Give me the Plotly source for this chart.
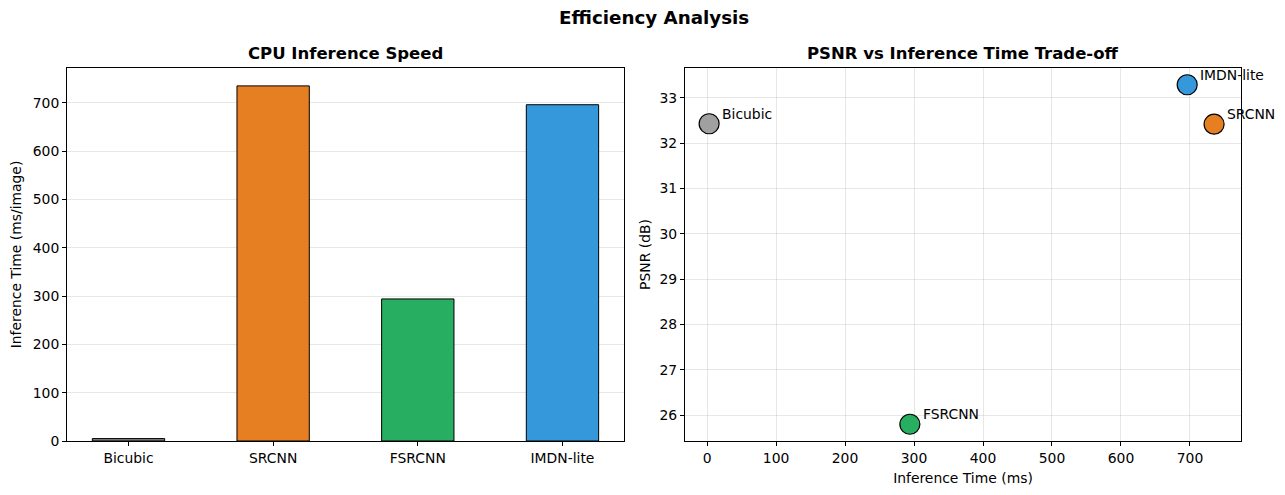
import plotly.graph_objects as go

models = ['Bicubic', 'SRCNN', 'FSRCNN', 'IMDN-lite']
infer_ms = [5, 735, 294, 696]
scatter_ms = [3, 735, 294, 696]
psnr_db = [32.43, 32.42, 25.80, 33.29]
bar_colors = ['#808080', '#e67e22', '#27ae60', '#3498db']
dot_colors = ['#a0a0a0', '#e67e22', '#27ae60', '#3498db']

font = 'DejaVu Sans'
grid = 'rgba(176,176,176,0.3)'

# page body has an 8px margin, so the figure is drawn 8px smaller
W, H = 1277, 487
ML, MR, MT, MB = 59, 44, 60, 54
plot_h = H - MT - MB

fig = go.Figure()

# left: bars
fig.add_trace(go.Bar(
    x=models, y=infer_ms, width=0.5,
    marker=dict(color=bar_colors, line=dict(color='black', width=1)),
    xaxis='x', yaxis='y', showlegend=False,
))

# right: scatter
fig.add_trace(go.Scatter(
    x=scatter_ms, y=psnr_db, mode='markers',
    marker=dict(size=20, color=dot_colors, line=dict(color='black', width=1.2)),
    xaxis='x2', yaxis='y2', showlegend=False,
))

axis_common = dict(
    showline=True, linecolor='black', linewidth=1, mirror=True,
    ticks='outside', ticklen=4, tickcolor='black',
    tickfont=dict(family=font, size=13.9, color='black'),
    zeroline=False, automargin=False,
)

fig.update_layout(
    width=W, height=H,
    margin=dict(l=ML, r=MR, t=MT, b=MB),
    plot_bgcolor='white', paper_bgcolor='white',
    font=dict(family=font, color='black'),
    xaxis=dict(domain=[0, 0.4744], range=[-0.425, 3.425], showgrid=False,
               **axis_common),
    yaxis=dict(domain=[0, 1], range=[0, 772], dtick=100,
               showgrid=True, gridcolor=grid,
               title=dict(text='Inference Time (ms/image)', font=dict(size=13.9), standoff=10),
               **axis_common),
    xaxis2=dict(domain=[0.5264, 1], range=[-32, 774], dtick=100,
                showgrid=True, gridcolor=grid, anchor='y2',
                title=dict(text='Inference Time (ms)', font=dict(size=13.9), standoff=8),
                **axis_common),
    yaxis2=dict(domain=[0, 1], range=[25.43, 33.66], dtick=1,
                showgrid=True, gridcolor=grid, anchor='x2',
                title=dict(text='PSNR (dB)', font=dict(size=13.9), standoff=5),
                **axis_common),
)

anns = [
    dict(text='<b>Efficiency Analysis</b>', x=0.5, y=1 + (MT - 10) / plot_h,
         xref='paper', yref='paper', showarrow=False, font=dict(size=18.3),
         xanchor='center', yanchor='middle'),
    dict(text='<b>CPU Inference Speed</b>', x=0.4744 / 2, y=1 + (MT - 46) / plot_h,
         xref='paper', yref='paper', showarrow=False, font=dict(size=16.5),
         xanchor='center', yanchor='middle'),
    dict(text='<b>PSNR vs Inference Time Trade-off</b>', x=(0.5264 + 1) / 2,
         y=1 + (MT - 46) / plot_h, xref='paper', yref='paper', showarrow=False,
         font=dict(size=16.5), xanchor='center', yanchor='middle'),
]
for name, t, p in zip(models, scatter_ms, psnr_db):
    anns.append(dict(text=name, x=t, y=p, xref='x2', yref='y2', showarrow=False,
                     xanchor='left', yanchor='middle', xshift=11, yshift=10,
                     font=dict(size=13.9)))
fig.update_layout(annotations=anns)

fig.write_html("out.html")
